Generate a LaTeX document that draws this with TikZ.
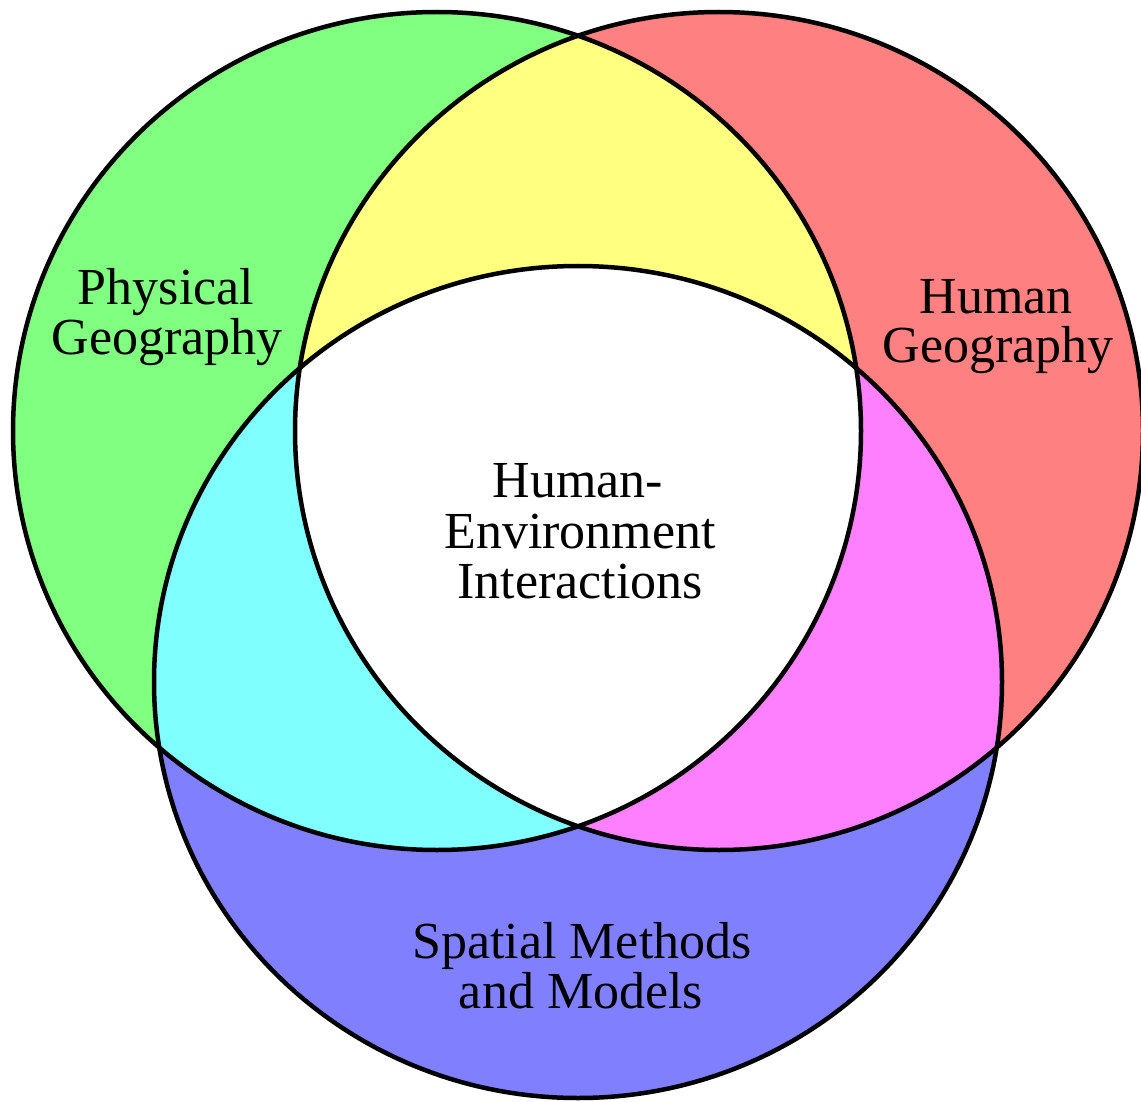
\documentclass[tikz,border=0pt]{standalone}
\usepackage{fontspec}
\setmainfont{Liberation Serif}
\begin{document}
\begin{tikzpicture}[x=1pt,y=-1pt,
  lbl/.style={font=\fontsize{52}{51}\selectfont, inner sep=0pt, anchor=base},
  outline/.style={draw=black, line width=4.5pt},
  gfill/.style={fill={rgb,255:red,128;green,255;blue,128}},
  rfill/.style={fill={rgb,255:red,255;green,128;blue,128}},
  bfill/.style={fill={rgb,255:red,128;green,128;blue,255}},
  yfill/.style={fill={rgb,255:red,255;green,255;blue,128}},
  cfill/.style={fill={rgb,255:red,128;green,255;blue,255}},
  mfill/.style={fill={rgb,255:red,255;green,128;blue,255}}]
\useasboundingbox (0,0) rectangle (1141,1102);
\def\pathGreen{(437,431) ellipse [x radius=424pt, y radius=419pt]}
\def\pathRed{(719,431) ellipse [x radius=424pt, y radius=419pt]}
\def\pathBlue{(578,682) ellipse [x radius=424pt, y radius=416pt]}
\fill[gfill] \pathGreen;
\fill[rfill] \pathRed;
\fill[bfill] \pathBlue;
\begin{scope}\clip \pathGreen; \fill[yfill] \pathRed; \end{scope}
\begin{scope}\clip \pathGreen; \fill[cfill] \pathBlue; \end{scope}
\begin{scope}\clip \pathRed; \fill[mfill] \pathBlue; \end{scope}
\begin{scope}\clip \pathGreen; \clip \pathRed; \fill[white] \pathBlue; \end{scope}
\draw[outline] \pathGreen;
\draw[outline] \pathRed;
\draw[outline] \pathBlue;
\node[lbl] (phys1) at (166,305) {Physical};
\node[lbl] (phys2) at (167,354) {Geography};
\node[lbl] (hum1) at (996,313) {Human};
\node[lbl] (hum2) at (998,362) {Geography};
\node[lbl] (hei1) at (578,497) {Human-};
\node[lbl] (hei2) at (580,548) {Environment};
\node[lbl] (hei3) at (580,598) {Interactions};
\node[lbl] (smm1) at (582,958) {Spatial Methods};
\node[lbl] (smm2) at (581,1008) {and Models};
\end{tikzpicture}
\end{document}
